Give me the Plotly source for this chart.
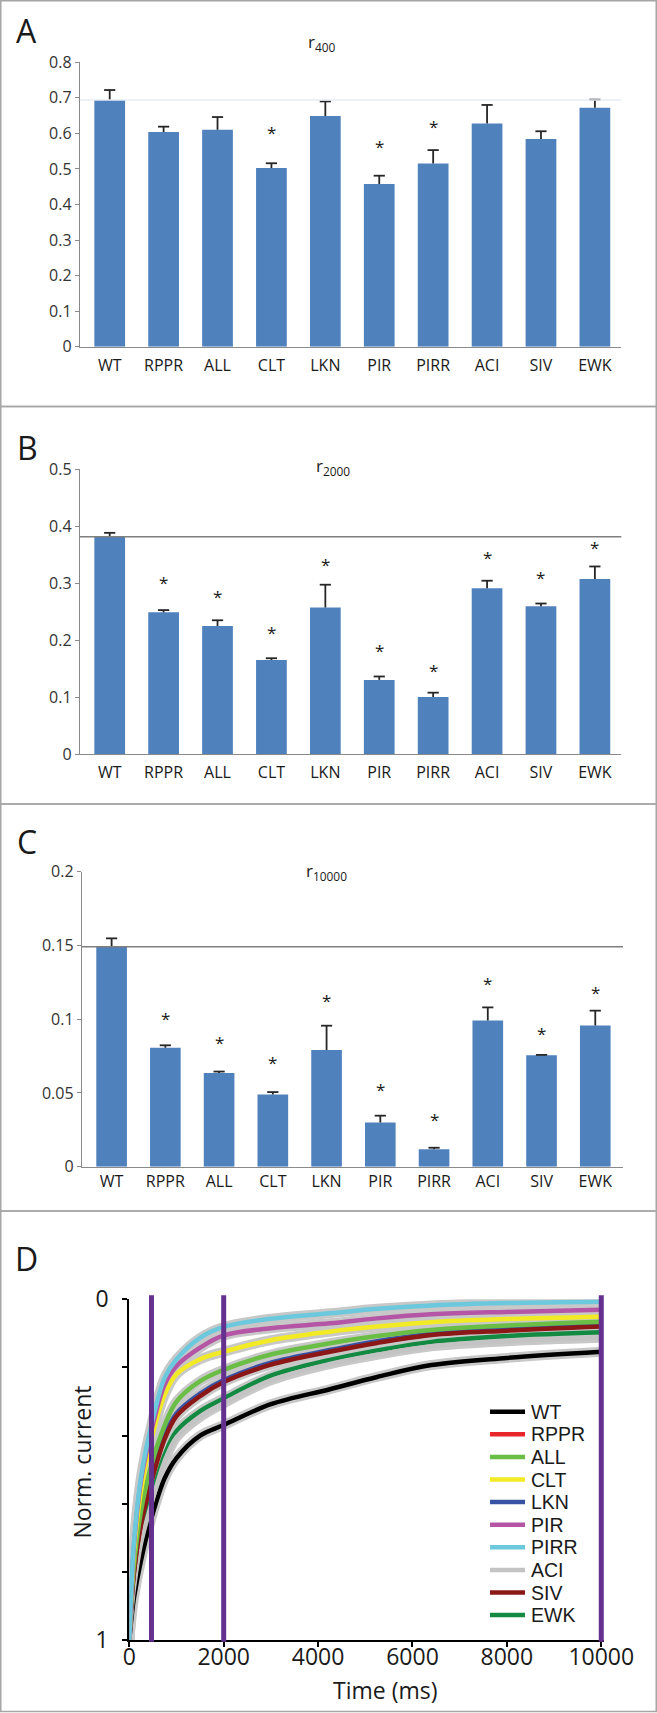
import plotly.graph_objects as go

W, H = 657, 1713

categories = ["WT", "RPPR", "ALL", "CLT", "LKN", "PIR", "PIRR", "ACI", "SIV", "EWK"]

# Panel A: r400
r400 = [0.694, 0.604, 0.610, 0.503, 0.649, 0.458, 0.515, 0.628, 0.584, 0.672]
r400_err = [0.028, 0.015, 0.036, 0.013, 0.041, 0.023, 0.038, 0.052, 0.022, 0.023]
r400_star = [None, None, None, 0.614, None, 0.574, 0.630, None, None, None]

# Panel B: r2000
r2000 = [0.381, 0.2485, 0.2246, 0.165, 0.257, 0.130, 0.100, 0.291, 0.259, 0.307]
r2000_err = [0.007, 0.004, 0.010, 0.003, 0.040, 0.006, 0.0076, 0.013, 0.005, 0.022]
r2000_star = [None, 0.308, 0.283, 0.220, 0.339, 0.188, 0.153, 0.352, 0.317, 0.370]

# Panel C: r10000
r10000 = [0.1492, 0.0807, 0.0635, 0.049, 0.0791, 0.030, 0.01175, 0.0992, 0.0755, 0.0958]
r10000_err = [0.0056, 0.0016, 0.001, 0.0016, 0.0165, 0.0046, 0.0011, 0.0088, 0.0003, 0.010]
r10000_star = [None, 0.1033, 0.087, 0.0734, 0.1153, 0.0549, 0.0344, 0.127, 0.0927, 0.1209]

# Panel D: normalised current traces
time_ms = [0, 50, 100, 250, 470, 750, 1000, 1500, 2000, 3000, 4250, 5250, 6400, 8000, 10000]
curve_wt = [1.0, 0.93, 0.875, 0.765, 0.642, 0.525, 0.466, 0.400, 0.369, 0.308, 0.264, 0.228, 0.193, 0.172, 0.154]
curve_rppr = [1.0, 0.88, 0.80, 0.655, 0.530, 0.405, 0.340, 0.281, 0.241, 0.190, 0.152, 0.126, 0.103, 0.090, 0.078]
curve_all = [1.0, 0.87, 0.78, 0.62, 0.485, 0.37, 0.30, 0.240, 0.207, 0.162, 0.129, 0.108, 0.090, 0.077, 0.066]
curve_clt = [1.0, 0.85, 0.74, 0.56, 0.41, 0.28, 0.22, 0.176, 0.154, 0.120, 0.095, 0.080, 0.067, 0.058, 0.051]
curve_lkn = [1.0, 0.88, 0.795, 0.65, 0.525, 0.40, 0.335, 0.277, 0.237, 0.186, 0.149, 0.123, 0.101, 0.088, 0.076]
curve_pir = [1.0, 0.84, 0.72, 0.53, 0.385, 0.25, 0.196, 0.142, 0.106, 0.085, 0.0705, 0.056, 0.044, 0.037, 0.031]
curve_pirr = [1.0, 0.83, 0.71, 0.52, 0.368, 0.23, 0.176, 0.113, 0.081, 0.057, 0.041, 0.028, 0.018, 0.011, 0.007]
curve_aci = [1.0, 0.91, 0.845, 0.715, 0.600, 0.475, 0.405, 0.345, 0.305, 0.238, 0.190, 0.163, 0.138, 0.123, 0.113]
curve_siv = [1.0, 0.88, 0.80, 0.66, 0.534, 0.41, 0.343, 0.284, 0.243, 0.192, 0.154, 0.128, 0.105, 0.092, 0.080]
curve_ewk = [1.0, 0.90, 0.83, 0.70, 0.583, 0.456, 0.387, 0.328, 0.291, 0.224, 0.178, 0.150, 0.125, 0.108, 0.097]
marker_times = [470, 2000, 10000]

curve_colors = ["#000000", "#e8262a", "#6abd45", "#f2ea25", "#3953a4",
                "#b455a6", "#6cc8dc", "#c3c3c3", "#8b1717", "#138a42"]
curve_values = [curve_wt, curve_rppr, curve_all, curve_clt, curve_lkn,
                curve_pir, curve_pirr, curve_aci, curve_siv, curve_ewk]

BAR_BLUE = "#4f81bd"
ERR = "#262626"
FONT = "Open Sans"


def px_x(px):
    return px / W


def px_y(py):
    return 1 - py / H


fig = go.Figure()
annotations = []
shapes = []


def label(x, y, text, size, family=FONT, **kw):
    d = dict(x=px_x(x), y=px_y(y), xref="paper", yref="paper", text=text, showarrow=False,
             xanchor="center", yanchor="middle", borderpad=0, borderwidth=0,
             font=dict(size=size, color="#1a1a1a", family=family))
    d.update(kw)
    annotations.append(d)


def bar_panel(n, values, errors, stars, sub, left, right, top, bottom, ymax, dtick,
              ref_color, title_xy, letter, letter_xy, standoff, xrange):
    s = "" if n == 1 else str(n)
    xa, ya = "x" + s, "y" + s
    tops = [v + e for v, e in zip(values, errors)]
    fig.add_trace(go.Bar(
        x=categories, y=values, xaxis=xa, yaxis=ya, width=0.57,
        marker=dict(color=BAR_BLUE, line=dict(width=0)),
        error_y=dict(type="data", symmetric=False, array=errors,
                     arrayminus=[0] * len(errors), color=ERR, thickness=1.8, width=0),
    ))
    # error bar caps
    fig.add_trace(go.Scatter(
        x=categories, y=tops, xaxis=xa, yaxis=ya, mode="markers", cliponaxis=False,
        marker=dict(symbol="line-ew-open", size=8, color=ERR, line=dict(color=ERR, width=1.8)),
    ))
    for c, st in zip(categories, stars):
        if st is None:
            continue
        annotations.append(dict(x=c, y=st, xref=xa, yref=ya, text="*", showarrow=False,
                                xanchor="center", yanchor="middle", yshift=-4,
                                font=dict(size=17, color="#1a1a1a", family=FONT)))
    # reference line at the WT level
    shapes.append(dict(type="line", xref=xa + " domain", x0=0, x1=1, yref=ya,
                       y0=values[0], y1=values[0], line=dict(color=ref_color, width=1.5)))
    label(title_xy[0], title_xy[1], "r<sub>%s</sub>" % sub, 17)
    label(letter_xy[0], letter_xy[1], letter, 32)
    fig.layout["xaxis" + s] = dict(
        domain=[px_x(left), px_x(right)], anchor=ya, type="category", range=xrange,
        showline=True, linecolor="#8a8a8a", linewidth=1.4, ticks="", showgrid=False,
        zeroline=False, ticklabelstandoff=standoff, automargin=False,
        tickfont=dict(size=16, color="#1a1a1a", family=FONT),
    )
    fig.layout["yaxis" + s] = dict(
        domain=[px_y(bottom), px_y(top)], anchor=xa, range=[0, ymax], tick0=0, dtick=dtick,
        showline=True, linecolor="#8a8a8a", linewidth=1.4, ticks="outside", ticklen=4,
        tickcolor="#8a8a8a", showgrid=False, zeroline=False, automargin=False,
        tickfont=dict(size=16, color="#333333", family=FONT),
    )


bar_panel(1, r400, r400_err, r400_star, "400", 80, 621.3, 62.3, 346.7, 0.8, 0.1,
          "#e6ecf4", (322, 42), "A", (26, 30), 4, [-0.551, 9.49])
bar_panel(2, r2000, r2000_err, r2000_star, "2000", 80, 621.3, 469, 754, 0.5, 0.1,
          "#7f7f7f", (333, 466), "B", (27, 447), 4, [-0.551, 9.49])
bar_panel(3, r10000, r10000_err, r10000_star, "10000", 82, 623, 871.7, 1166.7, 0.2, 0.05,
          "#7f7f7f", (326, 872), "C", (27, 842), 0, [-0.551, 9.516])

# Panel D: grey halo under every trace, then the coloured traces
for vals in curve_values:
    fig.add_trace(go.Scatter(x=time_ms, y=vals, xaxis="x4", yaxis="y4", mode="lines",
                             line=dict(color="#c8c8c8", width=10, shape="spline")))
draw_order = [0, 9, 7, 1, 4, 8, 2, 3, 5, 6]
for i in draw_order:
    fig.add_trace(go.Scatter(x=time_ms, y=curve_values[i], xaxis="x4", yaxis="y4", mode="lines",
                             name=categories[i],
                             line=dict(color=curve_colors[i], width=4.5, shape="spline")))

for t in marker_times:
    shapes.append(dict(type="line", xref="x4", x0=t, x1=t, yref="y4 domain", y0=-0.005, y1=1.012,
                       line=dict(color="#64318f", width=5)))

fig.layout["xaxis4"] = dict(
    domain=[px_x(129.3), px_x(604.1)], anchor="y4", range=[0, 10060],
    tickvals=[0, 2000, 4000, 6000, 8000, 10000], tickformat="d",
    showline=True, linecolor="black", linewidth=2, ticks="outside", ticklen=5, tickwidth=2,
    tickcolor="black", showgrid=False, zeroline=False, automargin=False, ticklabelstandoff=-10,
    tickfont=dict(size=23, color="#1a1a1a", family=FONT),
)
fig.layout["yaxis4"] = dict(
    domain=[px_y(1640), px_y(1299.3)], anchor="x4", range=[1, 0],
    tickvals=[0, 1], ticktext=["0", "1"],
    minor=dict(dtick=0.2, tick0=0, ticks="outside", ticklen=5, tickwidth=2, tickcolor="black",
               showgrid=False),
    showline=True, linecolor="black", linewidth=2, ticks="outside", ticklen=5, tickwidth=2,
    tickcolor="black", showgrid=False, zeroline=False, ticklabelstandoff=9, automargin=False,
    tickfont=dict(size=23, color="#1a1a1a", family=FONT),
)

label(385, 1690, "Time (ms)", 23)
label(81.5, 1462, "Norm. current", 23, textangle=-90)
label(26, 1258, "D", 32)

# hand-drawn legend (tight row spacing as in the original)
for i, (name, color) in enumerate(zip(categories, curve_colors)):
    ly = 1411.7 + i * 22.6
    shapes.append(dict(type="line", xref="paper", yref="paper", x0=px_x(490), x1=px_x(525),
                       y0=px_y(ly), y1=px_y(ly), line=dict(color=color, width=4.5)))
    label(531, ly, name, 19.5, family="Liberation Sans", xanchor="left")

# panel frames
for top, bottom in [(0.75, 406.5), (406.5, 804), (804, 1211), (1211, 1711.5)]:
    shapes.append(dict(type="rect", xref="paper", yref="paper", x0=px_x(0.75), x1=px_x(656.25),
                       y0=px_y(bottom), y1=px_y(top), line=dict(color="#a6a6a6", width=1.5),
                       fillcolor="rgba(0,0,0,0)", layer="below"))

fig.update_layout(
    width=W, height=H, margin=dict(l=0, r=0, t=0, b=0, autoexpand=False),
    plot_bgcolor="white", paper_bgcolor="white", showlegend=False,
    font=dict(family=FONT, color="#1a1a1a"),
    annotations=annotations, shapes=shapes,
)

fig.write_html("out.html", config={"displayModeBar": False},
               post_script="document.body.style.margin = '0';")
